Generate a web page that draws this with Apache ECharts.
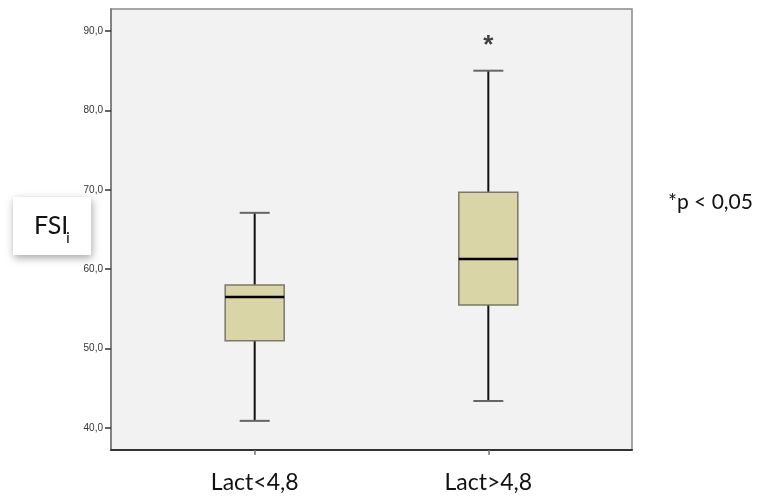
<!DOCTYPE html>
<html lang="en">
  <head>
    <meta charset="UTF-8">
    <title>FSI boxplot</title>
    <style>
      html, body { margin: 0; padding: 0; background: #fff; }
      #chart { width: 765px; height: 498px; }
    </style>
  </head>
  <body>
    <div id="chart"></div>
    <script src="https://cdn.jsdelivr.net/npm/echarts@6/dist/echarts.min.js"></script>
    <script type="text/javascript">
      // groups and their x positions (value axis, like the SPSS 0 / 1 coding)
      var categories = ['Lact<4,8', 'Lact>4,8'];
      var xPos = [0, 1];
      // five-number summaries
      var lowVals = [40.9, 43.4];
      var q1Vals = [51.0, 55.5];
      var medianVals = [56.5, 61.3];
      var q3Vals = [58.0, 69.7];
      var highVals = [67.1, 85.0];
      // significance mark above the second group
      var starVals = [null, 88.6];
      var yTicks = [40, 50, 60, 70, 80, 90];

      var boxData = xPos.map(function (x, i) {
        return [x, lowVals[i], q1Vals[i], medianVals[i], q3Vals[i], highVals[i]];
      });
      var starData = [];
      xPos.forEach(function (x, i) {
        if (starVals[i] != null) starData.push([x, starVals[i]]);
      });

      var myChart = echarts.init(document.getElementById('chart'));

      function renderBox(params, api) {
        var x = api.value(0);
        var pLow = api.coord([x, api.value(1)]);
        var pQ1 = api.coord([x, api.value(2)]);
        var pMed = api.coord([x, api.value(3)]);
        var pQ3 = api.coord([x, api.value(4)]);
        var pHigh = api.coord([x, api.value(5)]);
        var cx = pMed[0];
        var hw = 29.5;  // half box width
        var cw = 15;    // half cap width
        return {
          type: 'group',
          children: [
            { type: 'line', shape: { x1: cx, y1: pHigh[1], x2: cx, y2: pQ3[1] },
              style: { stroke: '#111', lineWidth: 2 } },
            { type: 'line', shape: { x1: cx, y1: pQ1[1], x2: cx, y2: pLow[1] },
              style: { stroke: '#111', lineWidth: 2 } },
            { type: 'line', shape: { x1: cx - cw, y1: pHigh[1], x2: cx + cw, y2: pHigh[1] },
              style: { stroke: '#666', lineWidth: 2 } },
            { type: 'line', shape: { x1: cx - cw, y1: pLow[1], x2: cx + cw, y2: pLow[1] },
              style: { stroke: '#666', lineWidth: 2 } },
            { type: 'rect', shape: { x: cx - hw, y: pQ3[1], width: hw * 2, height: pQ1[1] - pQ3[1] },
              style: { fill: '#d9d5a7', stroke: '#7a7868', lineWidth: 1.5 } },
            { type: 'line', shape: { x1: cx - hw, y1: pMed[1], x2: cx + hw, y2: pMed[1] },
              style: { stroke: '#000', lineWidth: 2.5 } }
          ]
        };
      }

      var option = {
        backgroundColor: '#ffffff',
        animation: false,
        grid: {
          left: 111,
          right: 133,
          top: 9,
          bottom: 48,
          show: true,
          backgroundColor: '#f2f2f2',
          borderColor: '#8a8a8a',
          borderWidth: 1.5
        },
        xAxis: {
          type: 'value',
          min: -0.615,
          max: 1.615,
          splitLine: { show: false },
          axisLine: { show: true, onZero: false, lineStyle: { color: '#333', width: 2 } },
          axisTick: {
            show: true,
            length: 5,
            customValues: xPos,
            lineStyle: { color: '#777', width: 1.5 }
          },
          axisLabel: {
            show: true,
            customValues: xPos,
            margin: 21,
            fontFamily: 'Lato',
            fontSize: 23,
            color: '#111',
            formatter: function (v) {
              var i = xPos.indexOf(Math.round(v));
              return i >= 0 ? categories[i] : '';
            }
          }
        },
        yAxis: {
          type: 'value',
          min: 37.23,
          max: 92.77,
          splitLine: { show: false },
          axisLine: { show: true, onZero: false, lineStyle: { color: '#777', width: 1.5 } },
          axisTick: {
            show: true,
            length: 6,
            customValues: yTicks,
            lineStyle: { color: '#333', width: 1.5 }
          },
          axisLabel: {
            show: true,
            customValues: yTicks,
            margin: 8,
            fontFamily: 'Liberation Sans',
            fontSize: 10,
            color: '#333',
            formatter: function (v) {
              return v.toFixed(1).replace('.', ',');
            }
          }
        },
        series: [
          {
            type: 'custom',
            renderItem: renderBox,
            encode: { x: 0, y: [1, 2, 3, 4, 5] },
            data: boxData,
            z: 3
          },
          {
            type: 'scatter',
            symbolSize: 0,
            data: starData,
            label: {
              show: true,
              position: 'inside',
              formatter: '*',
              fontFamily: 'Liberation Sans',
              fontSize: 26,
              fontWeight: 'bold',
              color: '#111',
              offset: [0, 4]
            }
          }
        ],
        graphic: [
          {
            type: 'rect',
            left: 13,
            top: 197,
            shape: { width: 78, height: 58 },
            style: {
              fill: '#ffffff',
              shadowBlur: 8,
              shadowColor: 'rgba(0,0,0,0.35)',
              shadowOffsetX: 1,
              shadowOffsetY: 3
            }
          },
          {
            type: 'text',
            left: 34,
            top: 213,
            style: { text: 'FSI', font: '25px Lato', fill: '#111' }
          },
          {
            type: 'text',
            left: 66,
            top: 230,
            style: { text: 'i', font: '16px Lato', fill: '#111' }
          },
          {
            type: 'text',
            left: 668,
            top: 192,
            style: { text: '*p < 0,05', font: '21px Lato', fill: '#111' }
          }
        ]
      };

      myChart.setOption(option);
    </script>
  </body>
</html>
